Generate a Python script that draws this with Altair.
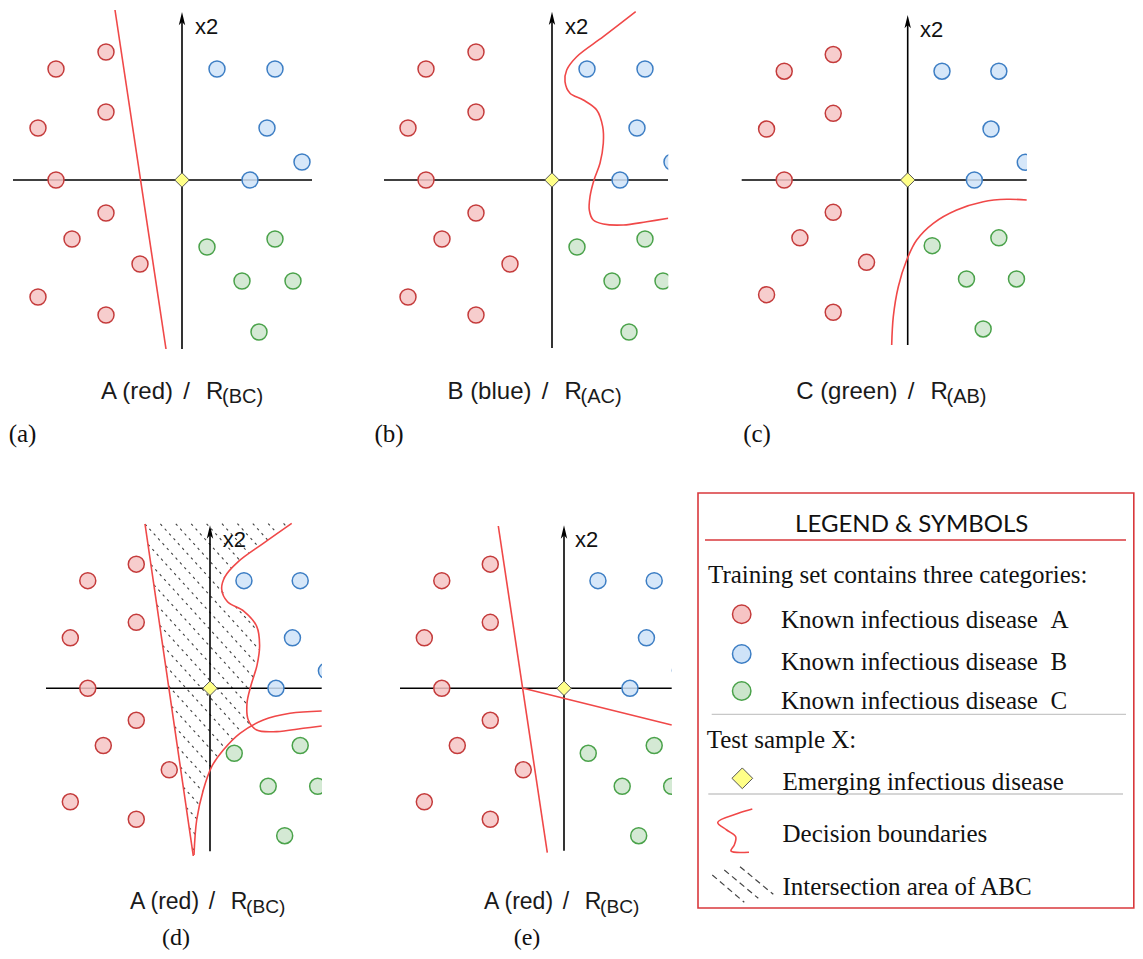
import altair as alt
import numpy as np
import pandas as pd

# ---------------- data ----------------
# training samples: pixel units of panel (a), relative to the origin (y grows downward)
red_x = [-76, -126, -76, -144, -126, -76, -110, -42, -144, -76]
red_y = [-128, -111, -68, -52, 0, 33, 59, 84, 117, 135]
blue_x = [35, 93, 85, 120, 68]
blue_y = [-111, -111, -52, -18, 0]
green_x = [25, 93, 60, 111, 77]
green_y = [67, 59, 101, 101, 152]

# decision boundaries, relative to each panel's origin
a_line_x = [-67, -16]
a_line_y = [-170, 169]
b_curve_x = [83.7, 51.3, 24.7, 14.7, 13, 18, 31.3, 44.7, 50.7, 51.3, 48, 42, 38, 37.3, 41.3, 51.3, 71.3, 94.7, 116.3]
b_curve_y = [-168.3, -143.3, -123.3, -110, -98.3, -86.7, -80, -70, -53.3, -36.7, -16.7, 0, 16.7, 30, 40, 44, 45, 41.7, 38.3]
c_curve_x = [-16, -14.4, -9.4, -1, 9, 25.6, 49, 75.6, 99, 119]
c_curve_y = [165, 136.7, 106.7, 80, 60, 43.3, 30, 21.7, 19.3, 20]
d_line_x = [-65, -16.7]
d_line_y = [-164.3, 167.7]
d_s_x = [81.7, 53.3, 28, 15, 11.7, 17.5, 34, 46.7, 49.6, 47, 41, 37, 38.3, 46.7, 66.7, 93.3, 111.7]
d_s_y = [-165, -145, -126.5, -111.7, -99, -86.5, -77, -62, -43, -23, -3, 15, 31.7, 41.7, 43.3, 40, 37.7]
d_c_x = [-16, -13.3, -6.7, 1.7, 13.3, 30, 53.3, 80, 111.7]
d_c_y = [166.7, 131.7, 101.7, 78.3, 61.7, 45, 31.7, 25, 22.7]
e_l1_x = [-65.7, -16.7]
e_l1_y = [-162.3, 164.4]
e_l2_x = [-40.7, 107.7]
e_l2_y = [0, 36.7]

# captions
cap_main = ["A (red)", "B (blue)", "C (green)", "A (red)", "A (red)"]
cap_sub = ["(BC)", "(AC)", "(AB)", "(BC)", "(BC)"]
panel_tags = ["(a)", "(b)", "(c)", "(d)", "(e)"]

# legend
legend_title = "LEGEND & SYMBOLS"
legend_head1 = "Training set contains three categories:"
legend_classes = ["Known infectious disease\u00a0\u00a0A",
                  "Known infectious disease\u00a0\u00a0B",
                  "Known infectious disease\u00a0\u00a0C"]
legend_head2 = "Test sample X:"
legend_items = ["Emerging infectious disease", "Decision boundaries", "Intersection area of ABC"]

# ---------------- layout ----------------
OX = [182, 552, 907.7, 210, 564]
OY = [180, 180, 180, 688.3, 688.3]
SC = [1.0, 1.0, 0.98, 0.97, 0.97]
H_L = [-169, -168, -166, -164, -164]
H_R = [130, 116, 119, 111.7, 107.7]
V_T = [-168, -168.3, -165, -163, -163]
V_B = [169, 168, 165, 163, 162.4]
X2_DX = [13, 13, 12.3, 12.7, 11]
X2_DY = [-153, -153, -150, -148, -148]
MASKS = [(668.3, 738, 0, 372), (1027, 1135, 0, 372), (322, 398, 495, 872), (672, 697, 495, 872)]
CAP_XS = [186.5, 545, 911, 212, 566]
CAP_BASE = [392, 392, 392, 902, 902]
CAP_FS = [24, 24, 24, 23, 23]
TAG_X = [22.5, 389, 757, 176, 527]
TAG_BASE = [434, 434, 434, 938, 938]
TAG_FS = [25, 25, 25, 24, 24]

XS = alt.Scale(domain=[8, 1135], nice=False, zero=False)
YS = alt.Scale(domain=[8, 951], nice=False, zero=False, reverse=True)


def ex(f="X"):
    return alt.X(f"{f}:Q", scale=XS, axis=None)


def ey(f="Y"):
    return alt.Y(f"{f}:Q", scale=YS, axis=None)


# ---- points
rows = []
for cls, xs_, ys_ in [("A", red_x, red_y), ("B", blue_x, blue_y), ("C", green_x, green_y)]:
    for p in range(5):
        for x, y in zip(xs_, ys_):
            rows.append(dict(X=OX[p] + SC[p] * x, Y=OY[p] + SC[p] * y, cls=cls))
pts = pd.DataFrame(rows)

# ---- axes
ax_rows = []
for p in range(5):
    ax_rows.append(dict(X=OX[p] + H_L[p], Y=OY[p], X2=OX[p] + H_R[p], Y2=OY[p]))
    ax_rows.append(dict(X=OX[p], Y=OY[p] + V_T[p] + 6, X2=OX[p], Y2=OY[p] + V_B[p]))
axes_df = pd.DataFrame(ax_rows)
arrow_df = pd.DataFrame(dict(X=[OX[p] for p in range(5)], Y=[OY[p] + V_T[p] for p in range(5)]))
diamond_df = pd.DataFrame(dict(X=OX, Y=OY))
x2_df = pd.DataFrame(dict(X=[OX[p] + X2_DX[p] for p in range(5)],
                          Y=[OY[p] + X2_DY[p] for p in range(5)], t=["x2"] * 5))

# ---- boundaries
bounds = [(0, a_line_x, a_line_y), (1, b_curve_x, b_curve_y), (2, c_curve_x, c_curve_y),
          (3, d_line_x, d_line_y), (3, d_s_x, d_s_y), (3, d_c_x, d_c_y),
          (4, e_l1_x, e_l1_y), (4, e_l2_x, e_l2_y)]
b_rows = []
for k, (p, bx, by) in enumerate(bounds):
    for i, (x, y) in enumerate(zip(bx, by)):
        b_rows.append(dict(X=OX[p] + x, Y=OY[p] + y, id=k, o=i))
bound_df = pd.DataFrame(b_rows)

# ---- hatch of the ABC intersection area in panel (d)
S = np.array(list(zip(d_s_x, d_s_y)), float)
C = np.array(list(zip(d_c_x, d_c_y)), float)


def seg_int(p1, p2, q1, q2):
    d1 = p2 - p1
    d2 = q2 - q1
    den = d1[0] * d2[1] - d1[1] * d2[0]
    if abs(den) < 1e-12:
        return None
    w = q1 - p1
    t = (w[0] * d2[1] - w[1] * d2[0]) / den
    u = (w[0] * d1[1] - w[1] * d1[0]) / den
    if 0 <= t <= 1 and 0 <= u <= 1:
        return p1 + t * d1
    return None


hit = None
for i in range(len(S) - 1):
    for j in range(len(C) - 1):
        r = seg_int(S[i], S[i + 1], C[j], C[j + 1])
        if r is not None:
            hit = (i, j, r)
            break
    if hit:
        break
i_s, j_c, P = hit
poly = [np.array([d_line_x[0], d_line_y[0]])] + list(S[:i_s + 1]) + [P] + list(C[j_c::-1]) + \
       [np.array([d_line_x[1], d_line_y[1]])]
poly = np.array(poly)


def inside(px, py, pg):
    res = np.zeros(px.shape, bool)
    n = len(pg)
    for k in range(n):
        x1, y1 = pg[k]
        x2, y2 = pg[(k + 1) % n]
        cond = (y1 > py) != (y2 > py)
        dy = (y2 - y1) if y2 != y1 else 1e-9
        xint = x1 + (py - y1) * (x2 - x1) / dy
        res ^= cond & (px < xint)
    return res


m = 1.1
gap = 17.0
c0 = d_line_y[0] - m * d_line_x[0]
cv = poly[:, 1] - m * poly[:, 0]
h_rows = []
sx = np.arange(-90, 130, 0.2)
for k in range(int(np.floor((cv.min() - c0) / gap)), int(np.ceil((cv.max() - c0) / gap)) + 1):
    c = c0 + k * gap
    sy = m * sx + c
    ins = inside(sx, sy, poly)
    if not ins.any():
        continue
    d = np.diff(ins.astype(int))
    starts = list(np.where(d == 1)[0] + 1)
    ends = list(np.where(d == -1)[0])
    if ins[0]:
        starts = [0] + starts
    if ins[-1]:
        ends = ends + [len(ins) - 1]
    for a, b in zip(starts, ends):
        if sx[b] - sx[a] > 2:
            h_rows.append(dict(X=OX[3] + sx[a], Y=OY[3] + sy[a], X2=OX[3] + sx[b], Y2=OY[3] + sy[b]))
hatch_df = pd.DataFrame(h_rows)

mask_df = pd.DataFrame([dict(X=a, X2=b, Y=c, Y2=d) for a, b, c, d in MASKS])

# ---- captions
cm, cs, cr, cslash = [], [], [], []
for p in range(5):
    f = CAP_FS[p] / 24.0
    cm.append(dict(X=CAP_XS[p] - 13.5 * f, Y=CAP_BASE[p], t=cap_main[p], fs=CAP_FS[p]))
    cslash.append(dict(X=CAP_XS[p], Y=CAP_BASE[p], t="/", fs=CAP_FS[p]))
    cr.append(dict(X=CAP_XS[p] + 19.5 * f, Y=CAP_BASE[p], t="R", fs=CAP_FS[p]))
    cs.append(dict(X=CAP_XS[p] + 35.5 * f, Y=CAP_BASE[p] + 5 * f, t=cap_sub[p], fs=20 * f))
tag_df = pd.DataFrame(dict(X=TAG_X, Y=TAG_BASE, t=panel_tags, fs=TAG_FS))

# ---- legend
leg_box = pd.DataFrame([dict(X=698, X2=1133.8, Y=493, Y2=908)])
leg_red_rule = pd.DataFrame([dict(X=705, X2=1126, Y=540, Y2=540)])
leg_gray_rule = pd.DataFrame([dict(X=711.7, X2=1126, Y=714.3, Y2=714.3),
                              dict(X=708.3, X2=1123, Y=794, Y2=794)])
leg_circ = pd.DataFrame(dict(X=[741.7] * 3, Y=[614.3, 654, 691], cls=["A", "B", "C"]))
leg_diam = pd.DataFrame(dict(X=[742.3], Y=[778.3]))
sq_x = [752.3, 738.3, 717.7, 726.7, 735.7, 734.3, 731, 749]
sq_y = [809, 813.3, 822.3, 830, 836.7, 845, 851, 852.3]
leg_sq = pd.DataFrame(dict(X=sq_x, Y=sq_y, o=range(len(sq_x))))
leg_hatch = pd.DataFrame(dict(X=[712.3, 724.3, 740], Y=[875, 870, 866.7],
                              X2=[744.3, 758.3, 773.3], Y2=[902.3, 898.3, 894.3]))
leg_title_df = pd.DataFrame(dict(X=[911.7], Y=[525], t=[legend_title]))
leg_text_df = pd.DataFrame(dict(
    X=[708, 781, 781, 781, 706.7, 782.5, 782.5, 782.5],
    Y=[575, 620, 661.5, 700.5, 740, 781.5, 834, 887.3],
    t=[legend_head1] + legend_classes + [legend_head2] + legend_items))

# ---------------- chart ----------------
layers = []
layers.append(alt.Chart(hatch_df).mark_rule(color="#404040", strokeWidth=1.1, strokeDash=[2.5, 4]).encode(
    x=ex(), y=ey(), x2="X2:Q", y2="Y2:Q"))
layers.append(alt.Chart(axes_df).mark_rule(color="#000000", strokeWidth=1.6).encode(
    x=ex(), y=ey(), x2="X2:Q", y2="Y2:Q"))
layers.append(alt.Chart(pts).mark_point(shape="circle", filled=True, size=256, strokeWidth=1.5,
                                        opacity=1, fillOpacity=0.85).encode(
    x=ex(), y=ey(),
    fill=alt.Fill("cls:N", scale=alt.Scale(domain=["A", "B", "C"], range=["#f6c4c4", "#cfe3f8", "#cce5cc"]), legend=None),
    stroke=alt.Stroke("cls:N", scale=alt.Scale(domain=["A", "B", "C"], range=["#c43b3b", "#3d7ec4", "#4aa24a"]), legend=None)))
layers.append(alt.Chart(bound_df).mark_line(color="#f04848", strokeWidth=1.6, interpolate="catmull-rom").encode(
    x=ex(), y=ey(), detail="id:N", order="o:Q"))
layers.append(alt.Chart(diamond_df).mark_point(shape="diamond", filled=True, size=210, fill="#ffff88",
                                               stroke="#555555", strokeWidth=1, opacity=1).encode(x=ex(), y=ey()))
layers.append(alt.Chart(arrow_df).mark_point(shape="M0,0 L0.48,2 L0,1.5 L-0.48,2 Z", filled=True,
                                             color="#000000", size=178, opacity=1).encode(x=ex(), y=ey()))
layers.append(alt.Chart(mask_df).mark_rect(color="#ffffff", opacity=1).encode(
    x=ex(), x2="X2:Q", y=ey(), y2="Y2:Q"))
layers.append(alt.Chart(x2_df).mark_text(font="Liberation Sans", fontSize=22, align="left", color="#111111").encode(
    x=ex(), y=ey(), text="t:N"))
for data, al in [(cm, "right"), (cslash, "center"), (cr, "left"), (cs, "left")]:
    layers.append(alt.Chart(pd.DataFrame(data)).mark_text(font="Liberation Sans", align=al, color="#1a1a1a").encode(
        x=ex(), y=ey(), text="t:N", size=alt.Size("fs:Q", scale=None)))
layers.append(alt.Chart(tag_df).mark_text(font="Liberation Serif", align="center", color="#111111").encode(
    x=ex(), y=ey(), text="t:N", size=alt.Size("fs:Q", scale=None)))
# legend
layers.append(alt.Chart(leg_box).mark_rect(filled=False, stroke="#d9383c", strokeWidth=1.6).encode(
    x=ex(), x2="X2:Q", y=ey(), y2="Y2:Q"))
layers.append(alt.Chart(leg_red_rule).mark_rule(color="#d9383c", strokeWidth=1.6).encode(
    x=ex(), x2="X2:Q", y=ey(), y2="Y2:Q"))
layers.append(alt.Chart(leg_gray_rule).mark_rule(color="#c8c8c8", strokeWidth=1.3).encode(
    x=ex(), x2="X2:Q", y=ey(), y2="Y2:Q"))
layers.append(alt.Chart(leg_circ).mark_point(shape="circle", filled=True, size=340, strokeWidth=1.5, opacity=1).encode(
    x=ex(), y=ey(),
    fill=alt.Fill("cls:N", scale=alt.Scale(domain=["A", "B", "C"], range=["#f8cecc", "#dae8fc", "#d5e8d4"]), legend=None),
    stroke=alt.Stroke("cls:N", scale=alt.Scale(domain=["A", "B", "C"], range=["#f0a0a0", "#6c8ebf", "#5cad5c"]), legend=None)))
layers.append(alt.Chart(leg_diam).mark_point(shape="diamond", filled=True, size=430, fill="#ffff88",
                                             stroke="#555555", strokeWidth=1, opacity=1).encode(x=ex(), y=ey()))
layers.append(alt.Chart(leg_sq).mark_line(color="#f04848", strokeWidth=1.6, interpolate="catmull-rom").encode(
    x=ex(), y=ey(), order="o:Q"))
layers.append(alt.Chart(leg_hatch).mark_rule(color="#444444", strokeWidth=1.2, strokeDash=[6, 4]).encode(
    x=ex(), x2="X2:Q", y=ey(), y2="Y2:Q"))
layers.append(alt.Chart(leg_title_df).mark_text(font="Lato", fontSize=24, align="center", color="#111111").encode(
    x=ex(), y=ey(), text="t:N"))
layers.append(alt.Chart(leg_text_df).mark_text(font="Liberation Serif", fontSize=25, align="left", color="#111111").encode(
    x=ex(), y=ey(), text="t:N"))

chart = alt.layer(*layers).properties(
    width=1127, height=943, padding=0, autosize=alt.AutoSizeParams(type="none"),
    background="#ffffff"
).configure_view(stroke=None)

chart.save("out.html", embed_options={"renderer": "svg", "actions": False})
